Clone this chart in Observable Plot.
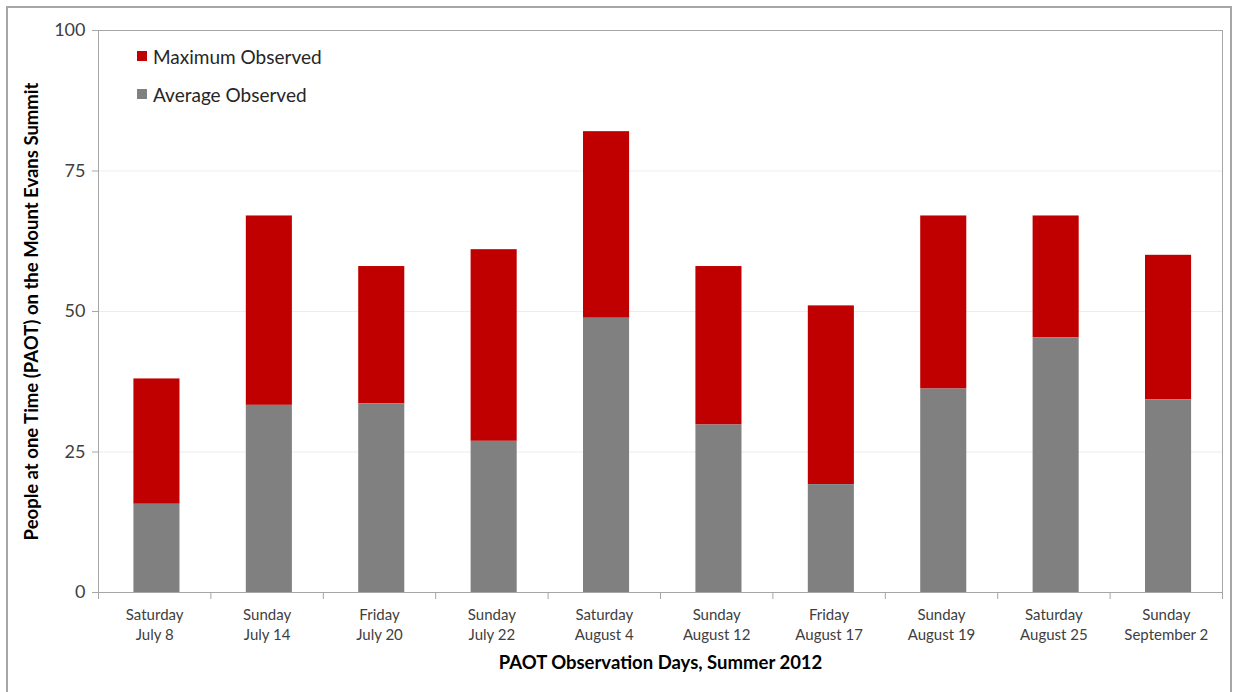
<!DOCTYPE html>
<html>
<head>
<meta charset="utf-8">
<script src="https://cdn.jsdelivr.net/npm/d3@7"></script>
<script src="https://cdn.jsdelivr.net/npm/@observablehq/plot@0.6"></script>
<style>
  html, body { margin: 0; padding: 0; background: #fff; overflow: hidden; }
  #wrap { position: relative; width: 1233px; height: 692px; font-family: Lato, "Open Sans", sans-serif; }
  #frame { position: absolute; left: 6px; top: 6px; width: 1222px; height: 700px; border: 2px solid #a6a6a6; border-bottom: none; pointer-events: none; }
  #legend { position: absolute; left: 137px; top: 45px; font-size: 19px; color: #262626; }
  #legend .item { display: flex; align-items: center; height: 22px; margin-bottom: 16px; }
  #legend .sw { width: 10px; height: 10px; margin-right: 6px; }
</style>
</head>
<body>
<div id="wrap"><div id="frame"></div></div>
<script>
const dayNames = ["Saturday", "Sunday", "Friday", "Sunday", "Saturday", "Sunday", "Friday", "Sunday", "Saturday", "Sunday"];
const dates = ["July 8", "July 14", "July 20", "July 22", "August 4", "August 12", "August 17", "August 19", "August 25", "September 2"];
const maximumObserved = [38, 67, 58, 61, 82, 58, 51, 67, 67, 60];
const averageObserved = [15.7, 33.3, 33.6, 26.9, 48.8, 29.8, 19.2, 36.2, 45.3, 34.3];
const yTicks = [0, 25, 50, 75, 100];
const seriesNames = ["Maximum Observed", "Average Observed"];
const seriesColors = ["#C00000", "#808080"];
const xTitle = "PAOT Observation Days, Summer 2012";
const yTitle = "People at one Time (PAOT) on the Mount Evans Summit";

const data = dates.map((d, i) => ({i, day: dayNames[i], date: d, max: maximumObserved[i], avg: averageObserved[i]}));
const half = 0.205;
const shift = 0.02;
const axisColor = "#a6a6a6";

const chart = Plot.plot({
  width: 1233,
  height: 692,
  marginLeft: 98,
  marginRight: 11,
  marginTop: 30,
  marginBottom: 100,
  style: {fontFamily: "Lato, 'Open Sans', sans-serif", color: "#404040", background: "transparent"},
  x: {domain: [0, dates.length], axis: null},
  y: {domain: [0, 100], axis: null},
  marks: [
    Plot.ruleY([25, 50, 75], {stroke: "#ededed"}),
    Plot.ruleY([100], {stroke: axisColor}),
    Plot.ruleX([dates.length], {stroke: axisColor}),
    Plot.rectY(data, {x1: d => d.i + 0.5 - half + shift, x2: d => d.i + 0.5 + half + shift, y1: "avg", y2: "max", fill: seriesColors[0]}),
    Plot.rectY(data, {x1: d => d.i + 0.5 - half + shift, x2: d => d.i + 0.5 + half + shift, y1: 0, y2: "avg", fill: seriesColors[1]}),
    Plot.ruleY([0], {stroke: axisColor}),
    Plot.ruleX([0], {stroke: axisColor}),
    Plot.axisY(yTicks, {tickSize: 6, tickPadding: 7, fontSize: 18, stroke: axisColor, fill: "#404040", label: null}),
    Plot.axisX(d3.range(0, dates.length + 1), {tickSize: 7, stroke: axisColor, tickFormat: () => "", label: null}),
    Plot.axisX(data.map(d => d.i + 0.5), {tickSize: 0, tickPadding: 13, fontSize: 15, lineHeight: 1.33, fill: "#404040", label: null,
      tickFormat: v => { const k = Math.round(v - 0.5); return dayNames[k] + "\n" + dates[k]; }}),
    Plot.text([xTitle], {frameAnchor: "bottom", dy: 76, fontSize: 18.5, fontWeight: "bold", fill: "#000"}),
    Plot.text([yTitle], {frameAnchor: "left", textAnchor: "middle", dx: -66, rotate: -90, fontSize: 18.5, fontWeight: "bold", fill: "#000"})
  ]
});

const wrap = document.getElementById("wrap");
wrap.insertBefore(chart, wrap.firstChild);

const legend = document.createElement("div");
legend.id = "legend";
seriesNames.forEach((name, k) => {
  const item = document.createElement("div");
  item.className = "item";
  const sw = document.createElement("span");
  sw.className = "sw";
  sw.style.background = seriesColors[k];
  const label = document.createElement("span");
  label.textContent = name;
  item.appendChild(sw);
  item.appendChild(label);
  legend.appendChild(item);
});
wrap.appendChild(legend);
</script>
</body>
</html>
